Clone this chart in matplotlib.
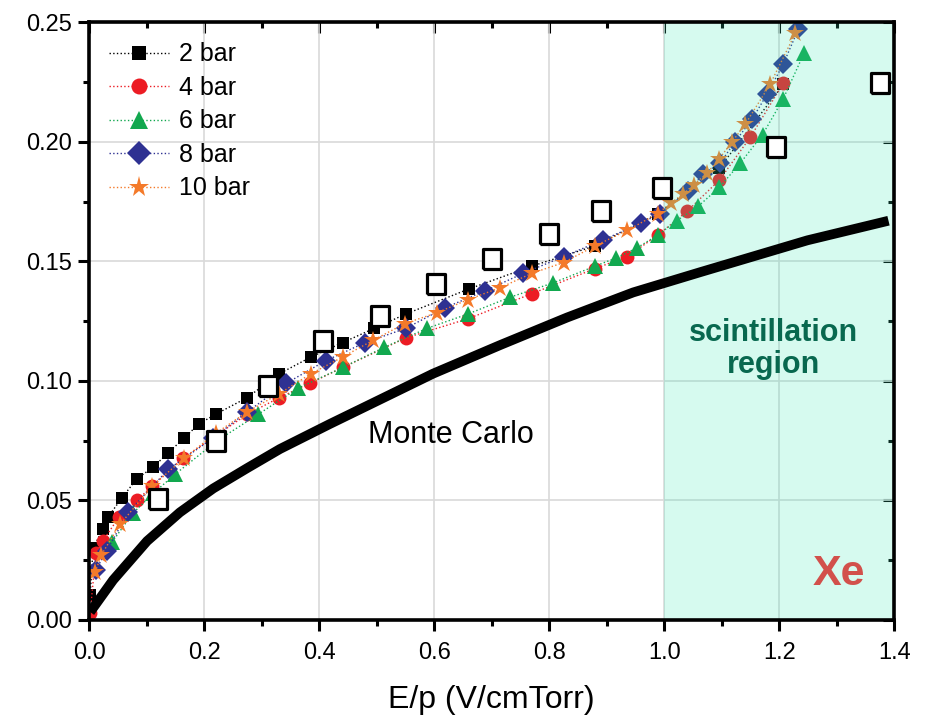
import matplotlib
matplotlib.use("Agg")
import matplotlib.pyplot as plt
from matplotlib.ticker import MultipleLocator

plt.rcParams['font.family'] = ['Liberation Sans', 'DejaVu Sans']

# 2 bar
x2 = [0.002, 0.007, 0.024, 0.033, 0.057, 0.083, 0.112, 0.138, 0.165, 0.191, 0.220, 0.275,
      0.331, 0.386, 0.441, 0.496, 0.551, 0.661, 0.770, 0.880, 0.989, 1.096, 1.207]
y2 = [0.0104, 0.030, 0.038, 0.043, 0.051, 0.059, 0.064, 0.070, 0.076, 0.082, 0.086, 0.093,
      0.103, 0.110, 0.116, 0.122, 0.128, 0.1385, 0.148, 0.1565, 0.170, 0.189, 0.224]
# 4 bar
x4 = [0.002, 0.012, 0.024, 0.052, 0.083, 0.110, 0.163, 0.220, 0.275, 0.331, 0.384, 0.441,
      0.551, 0.659, 0.770, 0.880, 0.936, 0.989, 1.040, 1.096, 1.150, 1.207]
y4 = [0.003, 0.028, 0.033, 0.043, 0.050, 0.056, 0.0676, 0.077, 0.086, 0.093, 0.099, 0.1056,
      0.118, 0.126, 0.1365, 0.147, 0.152, 0.161, 0.171, 0.184, 0.202, 0.2245]
# 6 bar
x6 = [0.040, 0.076, 0.112, 0.150, 0.223, 0.294, 0.364, 0.441, 0.513, 0.588, 0.659, 0.732,
      0.807, 0.880, 0.917, 0.953, 0.989, 1.022, 1.059, 1.096, 1.132, 1.171, 1.207, 1.243]
y6 = [0.0325, 0.0446, 0.053, 0.061, 0.075, 0.086, 0.097, 0.1056, 0.114, 0.122, 0.128, 0.135,
      0.141, 0.148, 0.1515, 0.1557, 0.161, 0.167, 0.173, 0.181, 0.191, 0.203, 0.218, 0.237]
# 8 bar
x8 = [0.012, 0.031, 0.068, 0.138, 0.215, 0.275, 0.343, 0.412, 0.480, 0.551, 0.619, 0.689,
      0.755, 0.825, 0.894, 0.960, 0.993, 1.042, 1.068, 1.097, 1.123, 1.153, 1.179, 1.207, 1.233]
y8 = [0.021, 0.029, 0.045, 0.063, 0.076, 0.087, 0.099, 0.1085, 0.116, 0.122, 0.1306, 0.1377,
      0.145, 0.152, 0.159, 0.166, 0.170, 0.1795, 0.1866, 0.191, 0.200, 0.2095, 0.220, 0.2325, 0.247]
# 10 bar
x10 = [0.011, 0.021, 0.054, 0.110, 0.165, 0.220, 0.275, 0.331, 0.386, 0.441, 0.494, 0.549,
       0.605, 0.659, 0.715, 0.770, 0.825, 0.880, 0.936, 0.989, 1.012, 1.032, 1.051, 1.075,
       1.096, 1.118, 1.141, 1.184, 1.228]
y10 = [0.020, 0.027, 0.040, 0.056, 0.0676, 0.078, 0.087, 0.0947, 0.103, 0.110, 0.117, 0.124,
       0.1285, 0.134, 0.139, 0.145, 0.1495, 0.1565, 0.163, 0.170, 0.1745, 0.178, 0.182, 0.187,
       0.193, 0.200, 0.2074, 0.224, 0.2454]
# open squares
xo = [0.120, 0.220, 0.311, 0.407, 0.506, 0.604, 0.701, 0.799, 0.890, 0.996, 1.195, 1.376]
yo = [0.0505, 0.075, 0.098, 0.1165, 0.127, 0.1407, 0.151, 0.1615, 0.171, 0.1807, 0.198, 0.2245]
# Monte Carlo
xmc = [0.002, 0.042, 0.101, 0.158, 0.216, 0.275, 0.332, 0.419, 0.483, 0.598, 0.715,
       0.831, 0.946, 1.063, 1.249, 1.39]
ymc = [0.0033, 0.0167, 0.033, 0.045, 0.055, 0.0635, 0.0715, 0.082, 0.0895, 0.103, 0.115,
       0.1265, 0.137, 0.1455, 0.1588, 0.167]

fig = plt.figure(figsize=(9.32, 7.2), dpi=100)
ax = fig.add_axes([0.0955, 0.139, 0.864, 0.830])

series = [
    (x2, y2, 'black', 's', 9, '2 bar'),
    (x4, y4, '#ec1c24', 'o', 10, '4 bar'),
    (x6, y6, '#12a84f', '^', 11, '6 bar'),
    (x8, y8, '#2e3192', 'D', 10.5, '8 bar'),
    (x10, y10, '#f47a2a', '*', 13.5, '10 bar'),
]
for xs, ys, c, m, ms, lab in series:
    ax.plot(xs, ys, linestyle=':', linewidth=1, color=c, marker=m, markersize=ms,
            markeredgewidth=0, label=lab, zorder=3)

# translucent overlay for the scintillation region (drawn over the data points)
ax.axvspan(1.0, 1.4, color='#33e6b3', alpha=0.2, linewidth=0, zorder=4)

tall_box = [(-0.44, -0.5), (0.44, -0.5), (0.44, 0.5), (-0.44, 0.5), (-0.44, -0.5)]
ax.plot(xo, yo, linestyle='none', marker=tall_box, markersize=14, markerfacecolor='white',
        markeredgecolor='black', markeredgewidth=2.3, zorder=5)
ax.plot(xmc, ymc, color='black', linewidth=7, solid_capstyle='butt', zorder=5)

ax.text(0.63, 0.0772, 'Monte Carlo', fontsize=22, ha='center', va='center', zorder=6)
ax.text(1.19, 0.1133, 'scintillation\nregion', fontsize=22, fontweight='bold',
        color='#08684f', ha='center', va='center', linespacing=1.1, zorder=6)
ax.text(1.303, 0.0192, 'Xe', fontsize=31, fontweight='bold', color='#d2504b',
        ha='center', va='center', zorder=6)

ax.set_xlim(0, 1.4)
ax.set_ylim(0, 0.25)
ax.xaxis.set_major_locator(MultipleLocator(0.2))
ax.xaxis.set_minor_locator(MultipleLocator(0.1))
ax.yaxis.set_major_locator(MultipleLocator(0.05))
ax.yaxis.set_minor_locator(MultipleLocator(0.025))
ax.xaxis.set_major_formatter(plt.FormatStrFormatter('%.1f'))
ax.yaxis.set_major_formatter(plt.FormatStrFormatter('%.2f'))
ax.grid(which='major', color='#d9d9d9', linewidth=1.2, zorder=0)
ax.set_axisbelow(True)

for s in ax.spines.values():
    s.set_linewidth(2.6)
    s.set_zorder(7)
ax.tick_params(which='both', direction='out', width=2.2, labelsize=17)
ax.tick_params(axis='x', pad=8)
ax.tick_params(axis='y', pad=4)
ax.tick_params(which='major', length=8)
ax.tick_params(which='minor', length=4.5)

# inward ticks on top and right
axt = ax.secondary_xaxis('top')
axt.xaxis.set_major_locator(MultipleLocator(0.2))
axt.xaxis.set_minor_locator(MultipleLocator(0.1))
axt.tick_params(which='both', direction='in', width=2.2, labeltop=False)
axt.tick_params(which='major', length=8)
axt.tick_params(which='minor', length=4.5)
axr = ax.secondary_yaxis('right')
axr.yaxis.set_major_locator(MultipleLocator(0.05))
axr.yaxis.set_minor_locator(MultipleLocator(0.025))
axr.tick_params(which='both', direction='in', width=2.2, labelright=False)
axr.tick_params(which='major', length=8)
axr.tick_params(which='minor', length=4.5)

ax.set_xlabel('E/p (V/cmTorr)', fontsize=23, labelpad=15)

ax.legend(loc='upper left', fontsize=18, frameon=False, handlelength=2.4,
          borderaxespad=0.35, borderpad=0.45, labelspacing=0.38, handletextpad=0.4,
          markerscale=1.15)

fig.savefig('out.png', dpi=100)
